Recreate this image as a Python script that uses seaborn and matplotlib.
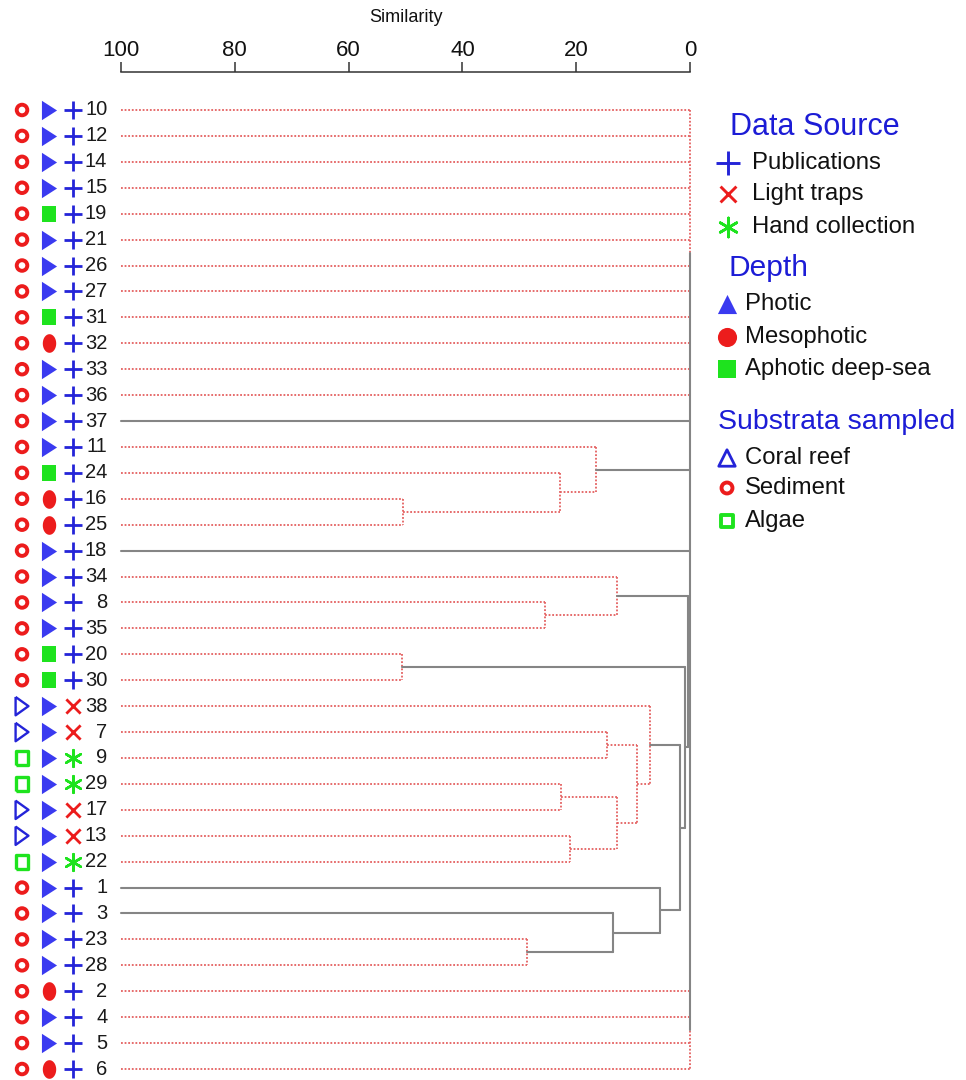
import numpy as np
import pandas as pd
import matplotlib
matplotlib.use('Agg')
import matplotlib.pyplot as plt
import seaborn as sns

# leaves, top to bottom
leaves = ['10', '12', '14', '15', '19', '21', '26', '27', '31', '32', '33', '36', '37',
          '11', '24', '16', '25', '18', '34', '8', '35', '20', '30', '38', '7', '9',
          '29', '17', '13', '22', '1', '3', '23', '28', '2', '4', '5', '6']
# substrata: S sediment, C coral reef, A algae
substrata = ['S', 'S', 'S', 'S', 'S', 'S', 'S', 'S', 'S', 'S', 'S', 'S', 'S',
             'S', 'S', 'S', 'S', 'S', 'S', 'S', 'S', 'S', 'S', 'C', 'C', 'A',
             'A', 'C', 'C', 'A', 'S', 'S', 'S', 'S', 'S', 'S', 'S', 'S']
# depth: P photic, M mesophotic, D aphotic deep-sea
depth = ['P', 'P', 'P', 'P', 'D', 'P', 'P', 'P', 'D', 'M', 'P', 'P', 'P',
         'P', 'D', 'M', 'M', 'P', 'P', 'P', 'P', 'D', 'D', 'P', 'P', 'P',
         'P', 'P', 'P', 'P', 'P', 'P', 'P', 'P', 'M', 'P', 'P', 'M']
# data source: P publications, L light traps, H hand collection
source = ['P', 'P', 'P', 'P', 'P', 'P', 'P', 'P', 'P', 'P', 'P', 'P', 'P',
          'P', 'P', 'P', 'P', 'P', 'P', 'P', 'P', 'P', 'P', 'L', 'L', 'H',
          'H', 'L', 'L', 'H', 'P', 'P', 'P', 'P', 'P', 'P', 'P', 'P']

# cluster merges (similarity %), red = not significantly different (SIMPROF)
node_names = ['T', 'a1', 'a2', 'a3', 'b1', 'b2', 'c1', 'd1', 'd2', 'd3', 'd4', 'd5', 'd6',
              'e1', 'e2', 'e3', 'A', 'B', 'D', 'U', 'root']
node_children = [['10', '12', '14', '15', '19', '21', '26', '27', '31', '32', '33', '36'],
                 ['16', '25'], ['24', 'a1'], ['11', 'a2'],
                 ['8', '35'], ['34', 'b1'],
                 ['20', '30'],
                 ['7', '9'], ['29', '17'], ['13', '22'], ['d2', 'd3'], ['d1', 'd4'], ['38', 'd5'],
                 ['23', '28'], ['3', 'e1'], ['1', 'e2'],
                 ['d6', 'e3'], ['c1', 'A'], ['b2', 'B'],
                 ['2', '4', '5', '6'],
                 ['T', '37', 'a3', '18', 'D', 'U']]
node_sim = [0, 50.5, 22.8, 16.6, 25.4, 12.9, 50.6, 14.6, 22.6, 21.1, 12.8, 9.3, 7.0,
            28.6, 13.5, 5.3, 1.8, 0.85, 0.35, 0, 0]
node_red = [True, True, True, True, True, True, True, True, True, True, True, True, True,
            True, False, False, False, False, False, True, False]

sim_ticks = [100, 80, 60, 40, 20, 0]

BLUE = '#2424d8'
TRI_BLUE = '#3a3af0'
RED = '#ec1c1c'
GREEN = '#1ee31e'
LINE_RED = '#e46060'
LINE_GRAY = '#858585'

sns.set_theme(style='white')
plt.rcParams['font.family'] = ['Liberation Sans', 'DejaVu Sans']

fig = plt.figure(figsize=(9.66, 10.8), dpi=100)
ax = fig.add_axes([0, 0, 700 / 966, 1 - 72 / 1080])

# dendrogram
red_kw = dict(color=LINE_RED, lw=1.3, ls=(0, (1, 1)), solid_capstyle='butt', zorder=2)
gray_kw = dict(color=LINE_GRAY, lw=1.5, zorder=3)
pos = {lab: float(i) for i, lab in enumerate(leaves)}
hgt = {lab: 100.0 for lab in leaves}
for name, kids, s, red in zip(node_names, node_children, node_sim, node_red):
    kw = red_kw if red else gray_kw
    ys = [pos[k] for k in kids]
    ax.plot([s, s], [min(ys), max(ys)], **kw)
    for k in kids:
        ax.plot([hgt[k], s], [pos[k], pos[k]], **kw)
    pos[name] = float(np.mean(ys))
    hgt[name] = s

# leaf symbols
df = pd.DataFrame({'leaf': leaves, 'row': range(len(leaves)),
                   'substrata': substrata, 'depth': depth, 'source': source})

tri_r = [(-0.7, 1), (0.7, 0), (-0.7, -1), (-0.7, 1)]
tri_r2 = [(-0.78, 1), (0.78, 0), (-0.78, -1), (-0.78, 1)]
t = np.linspace(0, 2 * np.pi, 48)
ellipse = list(zip(0.72 * np.cos(t), np.sin(t)))
sq = [(-0.87, -1), (0.87, -1), (0.87, 1), (-0.87, 1), (-0.87, -1)]

x_sub, x_dep, x_src, x_lab = 117.4, 112.6, 108.5, 102.4

sub_style = {'S': dict(marker='o', s=58, edgecolors=RED, facecolors='none', linewidths=2.8),
             'C': dict(marker=tri_r, s=175, edgecolors=BLUE, facecolors='none', linewidths=1.7),
             'A': dict(marker=sq, s=105, edgecolors=GREEN, facecolors='none', linewidths=2.4)}
for k, g in df.groupby('substrata'):
    ax.scatter(np.full(len(g), x_sub), g['row'], clip_on=False, zorder=4, **sub_style[k])

dep_style = {'P': dict(marker=tri_r2, s=195, color=TRI_BLUE),
             'M': dict(marker=ellipse, s=180, color=RED),
             'D': dict(marker=sq, s=130, color=GREEN)}
for k, g in df.groupby('depth'):
    sns.scatterplot(x=np.full(len(g), x_dep), y=g['row'].values, ax=ax, linewidth=0,
                    clip_on=False, zorder=4, legend=False, **dep_style[k])

src_style = {'P': dict(marker='+', s=170, color=BLUE, linewidths=2.0),
             'L': dict(marker='x', s=105, color=RED, linewidths=2.0),
             'H': dict(marker=(6, 2, 0), s=145, color=GREEN, linewidths=1.8)}
for k, g in df.groupby('source'):
    ax.scatter(np.full(len(g), x_src), g['row'], clip_on=False, zorder=4, **src_style[k])

for lab, r in zip(df['leaf'], df['row']):
    ax.text(x_lab, r, lab, ha='right', va='center', fontsize=14.5, color='#1a1a1a')

ax.set_xlim(121.27, -1.757)
ax.set_ylim(37.424, -1.466)
ax.set_yticks([])
ax.xaxis.tick_top()
ax.set_xticks(sim_ticks)
ax.set_xticklabels([str(v) for v in sim_ticks], fontsize=16, color='#111111')
ax.tick_params(axis='x', direction='out', length=7.2, width=1.1, color='#333333', pad=0.5)
for sp in ['left', 'right', 'bottom']:
    ax.spines[sp].set_visible(False)
ax.spines['top'].set_bounds(0, 100)
ax.spines['top'].set_color('#333333')
ax.spines['top'].set_linewidth(1.1)
ax.text(50, 1 + (72 - 18) / 1008, 'Similarity', transform=ax.get_xaxis_transform(),
        ha='center', va='center', fontsize=13, color='#111111')
ax.grid(False)

# legend
lg = fig.add_axes([700 / 966, 0, 266 / 966, 1])
lg.set_xlim(700, 966)
lg.set_ylim(1080, 0)
lg.axis('off')

item_kw = dict(fontsize=17.2, color='#111111', va='center', ha='left')
head_col = '#1c1cd6'

lg.text(730, 127, 'Data Source', fontsize=22, color=head_col, va='center', ha='left')
src_items = ['Publications', 'Light traps', 'Hand collection']
src_y = [163, 194, 227]
src_leg = [dict(marker='+', s=280, color=BLUE, linewidths=2.1),
           dict(marker='x', s=130, color=RED, linewidths=2.1),
           dict(marker=(6, 2, 0), s=190, color=GREEN, linewidths=1.9)]
for lab, y, st in zip(src_items, src_y, src_leg):
    lg.scatter([728], [y], **st)
    lg.text(752, y, lab, **item_kw)

lg.text(728, 268, 'Depth', fontsize=21.5, color=head_col, va='center', ha='left')
dep_items = ['Photic', 'Mesophotic', 'Aphotic deep-sea']
dep_y = [304, 337, 369]
dep_leg = [dict(marker='^', s=190, color=TRI_BLUE, linewidths=0),
           dict(marker='o', s=190, color=RED, linewidths=0),
           dict(marker='s', s=150, color=GREEN, linewidths=0)]
for lab, y, st in zip(dep_items, dep_y, dep_leg):
    lg.scatter([727], [y], **st)
    lg.text(745, y, lab, **item_kw)

lg.text(718, 422, 'Substrata sampled', fontsize=20.5, color=head_col, va='center', ha='left')
sub_items = ['Coral reef', 'Sediment', 'Algae']
sub_y = [458, 488, 521]
sub_leg = [dict(marker='^', s=140, edgecolors=BLUE, facecolors='none', linewidths=2.0),
           dict(marker='o', s=62, edgecolors=RED, facecolors='none', linewidths=2.8),
           dict(marker='s', s=80, edgecolors=GREEN, facecolors='none', linewidths=2.8)]
for lab, y, st in zip(sub_items, sub_y, sub_leg):
    lg.scatter([727], [y], **st)
    lg.text(745, y, lab, **item_kw)

fig.savefig('out.png', dpi=100)
